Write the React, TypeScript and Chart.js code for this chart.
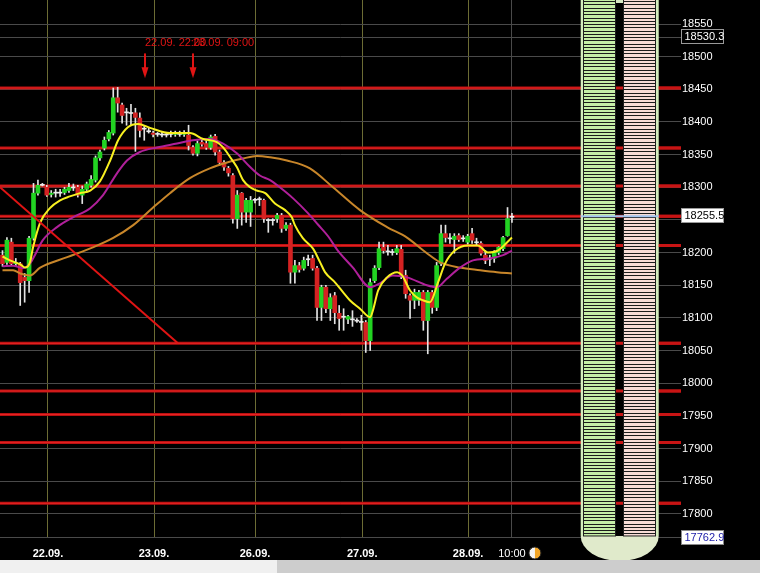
import React, { useEffect, useRef } from 'react';
import { Chart, registerables } from 'chart.js';

Chart.register(...registerables);

// ---- candle data (hourly) ----
const OPEN = [18196,18185,18216,18183,18183,18162,18157,18222,18291,18304,
 18300,18289,18291,18291,18292,18295,18300,18300,18288,18297,
 18303,18311,18345,18360,18374,18383,18437,18426,18414,18413,
 18414,18406,18389,18386,18383,18381,18381,18380,18381,18381,
 18381,18381,18380,18361,18352,18369,18367,18361,18378,18354,
 18338,18329,18318,18252,18291,18262,18262,18280,18282,18280,
 18249,18249,18252,18257,18237,18242,18170,18180,18176,18190,
 18191,18176,18116,18147,18114,18134,18107,18102,18098,18098,
 18096,18094,18093,18065,18157,18177,18208,18202,18200,18200,
 18205,18165,18134,18127,18127,18139,18096,18139,18116,18183,
 18229,18222,18220,18226,18222,18216,18229,18216,18214,18196,
 18191,18191,18200,18206,18226,18254];
const CLOSE = [18183,18219,18183,18185,18154,18157,18222,18291,18303,18303,
 18288,18291,18292,18292,18297,18300,18299,18288,18297,18305,
 18312,18345,18354,18372,18384,18437,18429,18410,18415,18414,
 18407,18387,18390,18385,18381,18382,18380,18381,18382,18383,
 18382,18383,18364,18352,18367,18366,18361,18377,18354,18338,
 18331,18322,18252,18288,18262,18280,18280,18281,18281,18252,
 18250,18250,18257,18237,18242,18170,18180,18174,18188,18189,
 18176,18116,18147,18114,18131,18108,18099,18101,18102,18097,
 18095,18093,18065,18154,18176,18206,18203,18201,18201,18206,
 18165,18137,18127,18139,18139,18096,18139,18116,18180,18229,
 18223,18221,18225,18220,18221,18225,18219,18215,18199,18188,
 18190,18200,18208,18223,18252,18255.5];
const HIGH = [18203,18223,18222,18191,18185,18168,18225,18306,18311,18306,
 18303,18295,18297,18297,18300,18306,18305,18303,18302,18308,
 18318,18348,18357,18377,18387,18452,18453,18429,18421,18427,
 18421,18414,18394,18391,18386,18384,18384,18383,18386,18386,
 18386,18387,18395,18364,18371,18372,18371,18380,18381,18357,
 18341,18332,18321,18295,18292,18283,18286,18283,18285,18282,
 18252,18252,18260,18260,18246,18245,18188,18185,18193,18196,
 18196,18179,18150,18150,18137,18139,18119,18114,18104,18111,
 18099,18104,18096,18160,18180,18216,18216,18211,18205,18211,
 18211,18173,18137,18144,18142,18142,18142,18142,18185,18242,
 18242,18229,18229,18229,18226,18228,18237,18222,18217,18203,
 18196,18203,18209,18225,18269,18260];
const LOW = [18179,18182,18180,18179,18119,18124,18139,18219,18288,18302,
 18286,18285,18285,18286,18289,18292,18295,18285,18275,18295,
 18300,18308,18341,18357,18371,18380,18415,18398,18395,18395,
 18355,18377,18372,18383,18377,18378,18377,18377,18377,18378,
 18378,18378,18357,18349,18348,18363,18358,18358,18349,18334,
 18326,18317,18245,18237,18242,18246,18240,18276,18272,18246,
 18231,18242,18246,18231,18234,18153,18153,18170,18173,18180,
 18173,18096,18096,18108,18096,18091,18081,18081,18091,18087,
 18093,18081,18047,18050,18154,18174,18199,18196,18196,18197,
 18160,18130,18099,18114,18119,18081,18045,18107,18111,18180,
 18216,18214,18199,18217,18217,18213,18214,18211,18196,18183,
 18180,18185,18197,18203,18225,18246];

// ---- moving averages : x = candle index, y = price ----
const YELLOW_I = [0,1.7,4.0,5.1,6.2,6.9,8.5,10.7,13.0,15.2,17.5,19.8,22.0,24.3,26.1,28.3,30.6,33.3,37.8,42.3,45.3,48.4,49.8,51.4,52.9,54.3,55.9,57.4,59.3,61.5,63.8,65.3,66.0,67.8,70.1,71.7,72.8,75.1,76.9,78.4,80.7,83.0,83.6,84.8,86.8,89.1,90.2,92.0,93.6,94.9,96.5,98.3,99.9,102.1,105.1,107.3,109.6,111.8,115.0];
const YELLOW_P = [18194,18188,18182,18177,18185,18208,18246,18268,18280,18286,18291,18295,18309,18341,18372,18392,18397,18391,18383,18383,18374,18369,18361,18346,18331,18311,18300,18295,18291,18275,18265,18254,18242,18222,18206,18185,18170,18154,18139,18127,18114,18101,18111,18142,18162,18170,18165,18142,18131,18127,18124,18154,18183,18203,18211,18211,18200,18203,18223];
const MAGENTA_I = [0,2.4,4.6,6.2,7.3,9.1,12.3,15.9,19.8,22.7,25.8,28.1,31.0,34.9,39.4,43.0,46.8,49.8,52.9,55.9,58.1,60.4,62.6,65.6,69.0,71.2,73.5,75.7,79.1,83.0,85.2,88.1,91.3,95.8,98.1,100.3,103.3,106.2,110.0,113.0,115.0];
const MAGENTA_P = [18179,18180,18176,18183,18196,18219,18239,18254,18268,18288,18321,18341,18354,18361,18367,18372,18374,18367,18352,18331,18318,18311,18300,18283,18260,18243,18225,18203,18177,18147,18153,18165,18162,18150,18147,18160,18177,18188,18191,18196,18203];
const ORANGE_I = [0,2.4,4.0,6.2,8.5,14.6,20.4,24.9,29.5,34.0,37.8,42.3,46.8,50.7,54.3,57.4,60.4,64.2,69.4,74.6,80.7,86.8,91.3,95.8,98.8,103.3,107.8,111.6,115.0];
const ORANGE_P = [18173,18173,18168,18165,18177,18193,18208,18222,18242,18269,18291,18314,18329,18338,18344,18348,18346,18341,18329,18300,18265,18239,18223,18199,18185,18177,18173,18170,18168];

// ---- drawn trendline and horizontal levels ----
const DIAG_I = [-0.564, 39.6];
const DIAG_P = [18300, 18061];
const RED_LEVELS = [18452, 18360, 18302, 18255.5, 18211, 18061, 17988, 17952, 17909, 17816];
const LAST_PRICE = 18255.5;
const HIGH_MARK = 18530.3;
const LOW_MARK = 17762.9;

// ---- time markers ----
const MARK_I = [32.17, 43.0];
const MARK_TEXT = ['22.09. 22:00', '23.09. 09:00'];
const ARROW_TOP = 18505;
const ARROW_TIP = 18467;
const MARK_TEXT_P = 18521;

// ---- axes ----
const X_MIN = -0.564;
const X_MAX = 153.16;
const Y_MIN = 17762.9;
const Y_MAX = 18586.8;
const X_TICKS = [10.27, 34.2, 57.0, 81.2, 105.1, 115];
const X_LABELS = ['22.09.', '23.09.', '26.09.', '27.09.', '28.09.', '10:00'];
const Y_TICKS = [17800,17850,17900,17950,18000,18050,18100,18150,18200,18250,18300,18350,18400,18450,18500,18550];

// ---- side panel layout (in candle-index units) ----
const PANEL_OUTER = [130.52, 148.13];
const PANEL_GREEN = [131.1, 138.5];
const PANEL_PINK = [139.99, 147.45];
const PANEL_FLOOR = 17766;
const STRIPE_STEP = 5;

const FONT = 'Arial, "Liberation Sans", sans-serif';

const terminalPlugin = {
  id: 'terminal',
  beforeDraw(chart: any) {
    const { ctx, width, height } = chart;
    ctx.save();
    ctx.fillStyle = '#000000';
    ctx.fillRect(0, 0, width, height);
    ctx.restore();
  },
  beforeDatasetsDraw(chart: any) {
    const { ctx, chartArea: a, scales } = chart;
    const y = scales.y;
    ctx.save();
    ctx.strokeStyle = '#4a4a4a';
    ctx.lineWidth = 1;
    [HIGH_MARK, LOW_MARK].forEach((v) => {
      const yy = Math.min(Math.round(y.getPixelForValue(v)) + 0.5, a.bottom - 0.5);
      ctx.beginPath();
      ctx.moveTo(a.left, yy);
      ctx.lineTo(a.right, yy);
      ctx.stroke();
    });
    RED_LEVELS.forEach((v) => {
      const yy = y.getPixelForValue(v);
      ctx.strokeStyle = '#b81212';
      ctx.lineWidth = 3;
      ctx.beginPath();
      ctx.moveTo(a.left, yy);
      ctx.lineTo(a.right, yy);
      ctx.stroke();
      ctx.strokeStyle = '#e82222';
      ctx.lineWidth = 1;
      ctx.beginPath();
      ctx.moveTo(a.left, yy);
      ctx.lineTo(a.right, yy);
      ctx.stroke();
    });
    ctx.restore();
  },
  afterDatasetsDraw(chart: any) {
    const { ctx, chartArea: a, scales } = chart;
    const x = scales.x;
    const y = scales.y;
    ctx.save();
    const L = x.getPixelForValue(PANEL_OUTER[0]);
    const R = x.getPixelForValue(PANEL_OUTER[1]);
    const top = a.top;
    const bot = y.getPixelForValue(PANEL_FLOOR);
    // bowl
    ctx.fillStyle = '#e0eacb';
    ctx.beginPath();
    ctx.ellipse((L + R) / 2, bot, (R - L) / 2, 25, 0, 0, Math.PI);
    ctx.fill();
    ctx.fillStyle = '#d5edbe';
    ctx.fillRect(L, top, R - L, bot - top);
    const drawCol = (col: number[], color: string) => {
      const c0 = Math.round(x.getPixelForValue(col[0]));
      const c1 = Math.round(x.getPixelForValue(col[1]));
      ctx.fillStyle = color;
      ctx.fillRect(c0, top, c1 - c0, bot - top);
      ctx.strokeStyle = '#1c1c1c';
      ctx.lineWidth = 1;
      ctx.beginPath();
      for (let v = Math.ceil(Y_MIN / STRIPE_STEP) * STRIPE_STEP; v <= Y_MAX; v += STRIPE_STEP) {
        const yy = Math.round(y.getPixelForValue(v)) + 0.5;
        if (yy > bot) continue;
        ctx.moveTo(c0, yy);
        ctx.lineTo(c1, yy);
      }
      ctx.stroke();
      ctx.strokeRect(c0 + 0.5, top - 1, c1 - c0 - 1, bot - top + 1);
    };
    drawCol(PANEL_GREEN, '#c6eea7');
    drawCol(PANEL_PINK, '#f7dcd6');
    const g0 = Math.round(x.getPixelForValue(PANEL_GREEN[1]));
    const g1 = Math.round(x.getPixelForValue(PANEL_PINK[0]));
    ctx.fillStyle = '#000000';
    ctx.fillRect(g0, top, g1 - g0, bot - top);
    ctx.fillStyle = '#d8e8c4';
    ctx.fillRect(g0, top, g1 - g0, 3);
    // red levels through the gap and right of the panel
    RED_LEVELS.forEach((v) => {
      const yy = y.getPixelForValue(v);
      ctx.strokeStyle = '#c81414';
      ctx.lineWidth = 3;
      ctx.beginPath();
      ctx.moveTo(g0, yy);
      ctx.lineTo(g1, yy);
      ctx.moveTo(R, yy);
      ctx.lineTo(a.right, yy);
      ctx.stroke();
    });
    // last price line
    ctx.strokeStyle = '#a4c4ee';
    ctx.lineWidth = 2;
    const ly = y.getPixelForValue(LAST_PRICE);
    ctx.beginPath();
    ctx.moveTo(L, ly);
    ctx.lineTo(R, ly);
    ctx.stroke();
    // time markers
    ctx.fillStyle = '#e01414';
    ctx.font = `11px ${FONT}`;
    ctx.textAlign = 'left';
    ctx.textBaseline = 'middle';
    MARK_I.forEach((mi, k) => {
      const ax = Math.round(x.getPixelForValue(mi));
      const t = y.getPixelForValue(ARROW_TOP);
      const tip = y.getPixelForValue(ARROW_TIP);
      ctx.fillRect(ax - 1, t, 2, tip - t - 9);
      ctx.beginPath();
      ctx.moveTo(ax - 3.5, tip - 11);
      ctx.lineTo(ax + 3.5, tip - 11);
      ctx.lineTo(ax, tip);
      ctx.closePath();
      ctx.fill();
      ctx.fillText(MARK_TEXT[k], ax, y.getPixelForValue(MARK_TEXT_P));
    });
    ctx.restore();
  },
  afterDraw(chart: any) {
    const { ctx, chartArea: a, scales, width, height } = chart;
    const y = scales.y;
    const x = scales.x;
    ctx.save();
    const box = (v: number, text: string, bg: string, fg: string, border: string) => {
      const yy = Math.round(y.getPixelForValue(v));
      const bx = Math.round(a.right) + 0.5;
      ctx.fillStyle = bg;
      ctx.fillRect(bx, yy - 7, 42, 14);
      ctx.strokeStyle = border;
      ctx.lineWidth = 1;
      ctx.strokeRect(bx, yy - 7.5, 42, 14);
      ctx.fillStyle = fg;
      ctx.font = `11px ${FONT}`;
      ctx.textAlign = 'left';
      ctx.textBaseline = 'middle';
      ctx.fillText(text, bx + 3, yy);
    };
    box(HIGH_MARK, HIGH_MARK.toFixed(1), '#000000', '#ffffff', '#9a9a9a');
    box(LAST_PRICE, LAST_PRICE.toFixed(1), '#ffffff', '#000000', '#9a9a9a');
    box(LOW_MARK, LOW_MARK.toFixed(1), '#ffffff', '#1c1ca8', '#8a8a8a');
    // scroll bar
    const sbTop = height - 13;
    ctx.fillStyle = '#f0f0f0';
    ctx.fillRect(0, sbTop, 277, 13);
    ctx.fillStyle = '#cdcdcd';
    ctx.fillRect(277, sbTop, width - 277, 13);
    // live icon next to the last time label
    const ix = x.getPixelForValue(X_TICKS[X_TICKS.length - 1]) + 23;
    const iy = a.bottom + 15;
    ctx.fillStyle = '#f2a526';
    ctx.beginPath();
    ctx.arc(ix, iy, 6, 0, Math.PI * 2);
    ctx.fill();
    ctx.fillStyle = '#f4f4f4';
    ctx.beginPath();
    ctx.arc(ix, iy, 6, Math.PI / 2, Math.PI * 1.5);
    ctx.fill();
    ctx.strokeStyle = '#202020';
    ctx.lineWidth = 1;
    ctx.beginPath();
    ctx.arc(ix, iy, 6, 0, Math.PI * 2);
    ctx.stroke();
    ctx.restore();
  },
};

export default function App() {
  const ref = useRef<HTMLCanvasElement>(null);
  useEffect(() => {
    const idx = OPEN.map((_, i) => i);
    const bodyColor = (i: number) =>
      Math.abs(CLOSE[i] - OPEN[i]) <= 1.5 ? '#ececec' : CLOSE[i] > OPEN[i] ? '#22d322' : '#d42222';
    const line = (xs: number[], ys: number[], color: string, order: number) => ({
      type: 'line' as const,
      data: xs.map((v, k) => ({ x: v, y: ys[k] })),
      borderColor: color,
      borderWidth: 2,
      pointRadius: 0,
      cubicInterpolationMode: 'monotone' as const,
      order,
    });
    const chart = new Chart(ref.current as HTMLCanvasElement, {
      type: 'bar',
      data: {
        datasets: [
          {
            type: 'bar',
            data: idx.map((i) => ({ x: i, y: [LOW[i], HIGH[i]] })) as any,
            backgroundColor: '#e4e4e4',
            barThickness: 1,
            grouped: false,
            order: 10,
          },
          {
            type: 'bar',
            data: idx.map((i) => ({ x: i, y: [OPEN[i], CLOSE[i]] })) as any,
            backgroundColor: idx.map(bodyColor),
            barThickness: 4,
            minBarLength: 1,
            grouped: false,
            order: 9,
          },
          line(ORANGE_I, ORANGE_P, '#c8862a', 4) as any,
          line(MAGENTA_I, MAGENTA_P, '#b0209a', 3) as any,
          line(YELLOW_I, YELLOW_P, '#f8f020', 2) as any,
          {
            type: 'line',
            data: DIAG_I.map((v, k) => ({ x: v, y: DIAG_P[k] })),
            borderColor: '#e01414',
            borderWidth: 2,
            pointRadius: 0,
            order: 1,
          } as any,
        ],
      },
      options: {
        animation: false,
        responsive: false,
        events: [],
        layout: { padding: { left: 0, right: 0, top: 0, bottom: 13 } },
        plugins: { legend: { display: false }, tooltip: { enabled: false } },
        scales: {
          x: {
            type: 'linear',
            min: X_MIN,
            max: X_MAX,
            offset: false,
            afterBuildTicks: (s: any) => {
              s.ticks = X_TICKS.map((v) => ({ value: v }));
            },
            afterFit: (s: any) => {
              s.height = 22;
              s.paddingLeft = 0;
              s.paddingRight = 0;
            },
            ticks: {
              autoSkip: false,
              maxRotation: 0,
              minRotation: 0,
              color: '#ffffff',
              padding: 9,
              font: (c: any) => ({ family: FONT, size: 11, weight: c.index < 5 ? 'bold' : 'normal' }),
              callback: (_v: any, i: number) => X_LABELS[i],
            },
            grid: {
              color: (c: any) => (c.index < 5 ? '#6c6c34' : '#4a4a4a'),
              drawTicks: false,
              offset: false,
            },
            border: { display: false },
          } as any,
          y: {
            type: 'linear',
            position: 'right',
            min: Y_MIN,
            max: Y_MAX,
            afterBuildTicks: (s: any) => {
              s.ticks = Y_TICKS.map((v) => ({ value: v }));
            },
            afterFit: (s: any) => {
              s.width = 79;
              s.paddingTop = 0;
              s.paddingBottom = 0;
            },
            ticks: {
              color: '#ffffff',
              padding: 1,
              font: { family: FONT, size: 11 },
              callback: (v: any) => String(v),
            },
            grid: { color: '#4a4a4a', drawTicks: false },
            border: { display: false },
          } as any,
        },
      },
      plugins: [terminalPlugin],
    });
    return () => chart.destroy();
  }, []);
  return (
    <div style={{ position: 'absolute', left: 0, top: 0, width: 760, height: 573, background: '#000' }}>
      <canvas ref={ref} width={760} height={573} style={{ display: 'block', width: 760, height: 573 }} />
    </div>
  );
}
